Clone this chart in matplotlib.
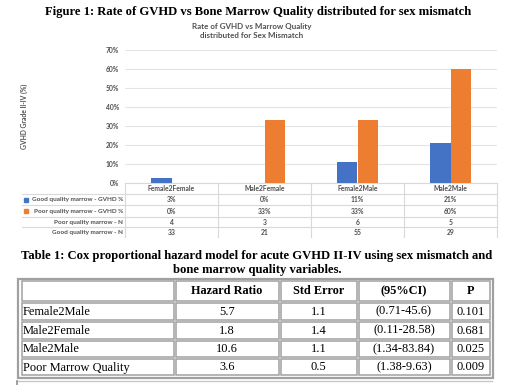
import numpy as np
import matplotlib
matplotlib.use("Agg")
import matplotlib.pyplot as plt
from matplotlib.patches import Rectangle

# ---- data ----
categories = ["Female2Female", "Male2Female", "Female2Male", "Male2Male"]
good_gvhd = [3, 0, 11, 21]
poor_gvhd = [0, 33, 33, 60]
poor_n = [4, 3, 6, 5]
good_n = [33, 21, 55, 29]
row_labels = ["Good quality marrow - GVHD %", "Poor quality marrow - GVHD %",
              "Poor quality marrow - N", "Good quality marrow - N"]
yticks = [0, 10, 20, 30, 40, 50, 60, 70]

cox_header = ["", "Hazard Ratio", "Std Error", "(95%CI)", "P"]
cox_vars = ["Female2Male", "Male2Female", "Male2Male", "Poor Marrow Quality"]
cox_hr = ["5.7", "1.8", "10.6", "3.6"]
cox_se = ["1.1", "1.4", "1.1", "0.5"]
cox_ci = ["(0.71-45.6)", "(0.11-28.58)", "(1.34-83.84)", "(1.38-9.63)"]
cox_p = ["0.101", "0.681", "0.025", "0.009"]

BLUE = "#4472C4"
ORANGE = "#ED7D31"
GREY_TXT = "#505050"
GRID = "#D9D9D9"
XL_FONT = "Lato"
SERIF = "Liberation Serif"
FS_XL = 4.9

W, H = 520, 385
fig = plt.figure(figsize=(W / 100, H / 100), dpi=100)
fig.patch.set_facecolor("white")

# plot area in pixel coords
px_l, px_r, px_t, px_b = 125, 497, 50, 183.3
ax = fig.add_axes([px_l / W, 1 - px_b / H, (px_r - px_l) / W, (px_b - px_t) / H])
x = np.arange(len(categories))
bw = 0.22
ax.bar(x - bw, good_gvhd, width=bw, align="edge", color=BLUE, zorder=3)
ax.bar(x, poor_gvhd, width=bw, align="edge", color=ORANGE, zorder=3)
ax.set_xlim(-0.5, len(categories) - 0.5)
ax.set_ylim(0, 70)
ax.set_yticks(yticks)
ax.set_yticklabels([f"{v}%" for v in yticks], fontsize=FS_XL, color=GREY_TXT,
                   fontfamily=XL_FONT, fontweight="bold")
ax.tick_params(axis="y", length=0, pad=4.5)
ax.set_xticks([])
ax.grid(axis="y", color="#E4E4E4", linewidth=0.8, zorder=0)
for s in ["top", "right", "left"]:
    ax.spines[s].set_visible(False)
ax.spines["bottom"].set_color(GRID)
ax.spines["bottom"].set_linewidth(0.8)

# overlay axes in pixel coordinates for texts / tables
ov = fig.add_axes([0, 0, 1, 1], zorder=5)
ov.set_xlim(0, W)
ov.set_ylim(H, 0)
ov.axis("off")
ov.patch.set_alpha(0)

ov.text(258, 12, "Figure 1: Rate of GVHD vs Bone Marrow Quality distributed for sex mismatch",
        ha="center", va="center", fontsize=9.1, fontweight="bold", fontfamily=SERIF)
ov.text(252, 26, "Rate of GVHD vs Marrow Quality", ha="center", va="center",
        fontsize=5.8, color=GREY_TXT, fontfamily=XL_FONT, fontweight="bold")
ov.text(252, 35.5, "distributed for Sex Mismatch", ha="center", va="center",
        fontsize=5.8, color=GREY_TXT, fontfamily=XL_FONT, fontweight="bold")
ov.text(24, 116.5, "GVHD Grade II-IV (%)", ha="center", va="center", rotation=90,
        fontsize=FS_XL, color=GREY_TXT, fontfamily=XL_FONT, fontweight="bold")

# chart data table
col_edges = np.linspace(px_l, px_r, len(categories) + 1)
col_mid = (col_edges[:-1] + col_edges[1:]) / 2
row_lines = [194, 205, 216.7, 227.3]
row_mid = [188.5, 199.8, 211, 222.2, 232.6]
for xe in col_edges:
    ov.plot([xe, xe], [px_b, 237], color=GRID, lw=0.8)
for yl in row_lines:
    ov.plot([22, px_r], [yl, yl], color=GRID, lw=0.8)
for cx, c in zip(col_mid, categories):
    ov.text(cx, row_mid[0], c, ha="center", va="center", fontsize=FS_XL,
            color=GREY_TXT, fontfamily=XL_FONT, fontweight="bold")
table_rows = [[f"{v}%" for v in good_gvhd], [f"{v}%" for v in poor_gvhd],
              [str(v) for v in poor_n], [str(v) for v in good_n]]
keys = [BLUE, ORANGE, None, None]
for i, (lab, vals, kc) in enumerate(zip(row_labels, table_rows, keys)):
    y = row_mid[i + 1]
    ov.text(123.5, y, lab, ha="right", va="center", fontsize=4.6,
            color=GREY_TXT, fontfamily=XL_FONT, fontweight="bold")
    if kc:
        ov.add_patch(Rectangle((23.5, y - 2), 4, 4, color=kc))
    for cx, v in zip(col_mid, vals):
        ov.text(cx, y, v, ha="center", va="center", fontsize=FS_XL,
                color=GREY_TXT, fontfamily=XL_FONT, fontweight="bold")

# Table 1
ov.text(257, 256.5, "Table 1: Cox proportional hazard model for acute GVHD II-IV using sex mismatch and",
        ha="center", va="center", fontsize=9.1, fontweight="bold", fontfamily=SERIF)
ov.text(257, 270, "bone marrow quality variables.",
        ha="center", va="center", fontsize=9.1, fontweight="bold", fontfamily=SERIF)

tcols = [(21.5, 173.5), (175.5, 278.5), (280.5, 356.5), (358.5, 449.5), (451.5, 489.5)]
trows = [(281, 301), (303, 319.5), (321.5, 338.5), (340.5, 357), (359, 375)]
BORDER = "#A0A0A0"
ov.add_patch(Rectangle((18, 278.5), 475, 99, fill=False, ec=BORDER, lw=1.6))
body = [cox_header] + [list(r) for r in zip(cox_vars, cox_hr, cox_se, cox_ci, cox_p)]
for ri, ((y0, y1), row) in enumerate(zip(trows, body)):
    for ci, ((x0, x1), val) in enumerate(zip(tcols, row)):
        ov.add_patch(Rectangle((x0, y0), x1 - x0, y1 - y0, fill=False, ec=BORDER, lw=1.1))
        if ri == 0:
            ov.text((x0 + x1) / 2, (y0 + y1) / 2 + 0.5, val, ha="center", va="center",
                    fontsize=8.8, fontweight="bold", fontfamily=SERIF)
        elif ci == 0:
            ov.text(x0 + 1.5, (y0 + y1) / 2 + 0.5, val, ha="left", va="center",
                    fontsize=8.9, fontfamily=SERIF)
        else:
            ov.text((x0 + x1) / 2, (y0 + y1) / 2 + 0.5, val, ha="center", va="center",
                    fontsize=8.9, fontfamily=SERIF)

# start of next box (cut off)
ov.plot([17, 492], [381, 381], color="#C8C8C8", lw=1.0)
ov.plot([17, 17], [381, 385], color="#909090", lw=1.2)

fig.savefig("out.png", dpi=100)
